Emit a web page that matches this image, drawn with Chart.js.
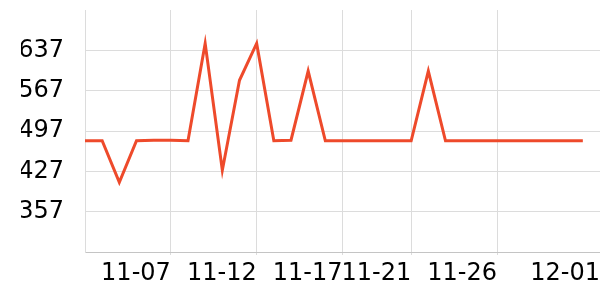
<!DOCTYPE html>
<html>
<head>
<meta charset="utf-8">
<script src="https://cdn.jsdelivr.net/npm/chart.js@4/dist/chart.umd.min.js"></script>
<style>
  html, body { margin: 0; padding: 0; background: #fff; }
  #wrap { width: 600px; height: 300px; }
</style>
</head>
<body>
<div id="wrap"><canvas id="lineChart"></canvas></div>
<script>
// data
const days = ['11-02', '11-03', '11-04', '11-05', '11-06', '11-07', '11-08', '11-09', '11-10', '11-11',
              '11-12', '11-13', '11-14', '11-15', '11-16', '11-17', '11-18', '11-19', '11-20', '11-21',
              '11-22', '11-23', '11-24', '11-25', '11-26', '11-27', '11-28', '11-29', '11-30', '12-01'];
const values = [480, 480, 408, 480, 481, 481, 480, 649, 429, 585,
                649, 480, 481, 601, 480, 480, 480, 480, 480, 480,
                601, 480, 480, 480, 480, 480, 480, 480, 480, 480];
const xTickLabels = ['11-07', '11-12', '11-17', '11-21', '11-26', '12-01'];
const xTickAt = [5, 10, 15, 19, 24, 30];
const yTicks = [357, 427, 497, 567, 637];

const yStep = yTicks[1] - yTicks[0];
const yMin = yTicks[0] - yStep;
const yMax = yTicks[yTicks.length - 1] + yStep;

Chart.defaults.font.family = "'DejaVu Sans', sans-serif";
Chart.defaults.font.size = 24;
Chart.defaults.color = '#000';

document.addEventListener('DOMContentLoaded', function() {
  const el = document.getElementById('lineChart');
  new Chart(el, {
    type: 'line',
    data: {
      datasets: [{
        label: 'value',
        data: values.map(function(v, i) { return { x: i, y: v, day: days[i] }; }),
        borderColor: '#ee4a2b',
        borderWidth: 3,
        pointRadius: 0,
        tension: 0,
        fill: false
      }]
    },
    options: {
      responsive: true,
      maintainAspectRatio: false,
      animation: false,
      layout: { padding: { left: 21, top: 10, right: 0, bottom: 0 } },
      plugins: { legend: { display: false }, tooltip: { enabled: false } },
      scales: {
        x: {
          type: 'linear',
          min: 0,
          max: 30,
          afterBuildTicks: function(scale) {
            scale.ticks = xTickAt.map(function(v) { return { value: v }; });
          },
          afterFit: function(scale) {
            scale.height = 48;
            scale.paddingLeft = 0;
            scale.paddingRight = 0;
          },
          ticks: {
            autoSkip: false,
            maxRotation: 0,
            align: 'end',
            padding: 4,
            callback: function(v) { return xTickLabels[xTickAt.indexOf(v)]; }
          },
          grid: { color: '#dcdcdc', tickLength: 3 },
          border: { color: '#c4c4c4' }
        },
        y: {
          min: yMin,
          max: yMax,
          afterFit: function(scale) {
            scale.width = 64;
            scale.paddingTop = 0;
            scale.paddingBottom = 0;
          },
          ticks: {
            stepSize: yStep,
            padding: 21,
            callback: function(v) { return yTicks.includes(v) ? v : ''; }
          },
          grid: {
            drawTicks: false,
            color: function(ctx) {
              return ctx.tick && ctx.tick.value === yMax ? 'rgba(0,0,0,0)' : '#dcdcdc';
            }
          },
          border: { color: '#dcdcdc' }
        }
      }
    }
  });
});
</script>
</body>
</html>
